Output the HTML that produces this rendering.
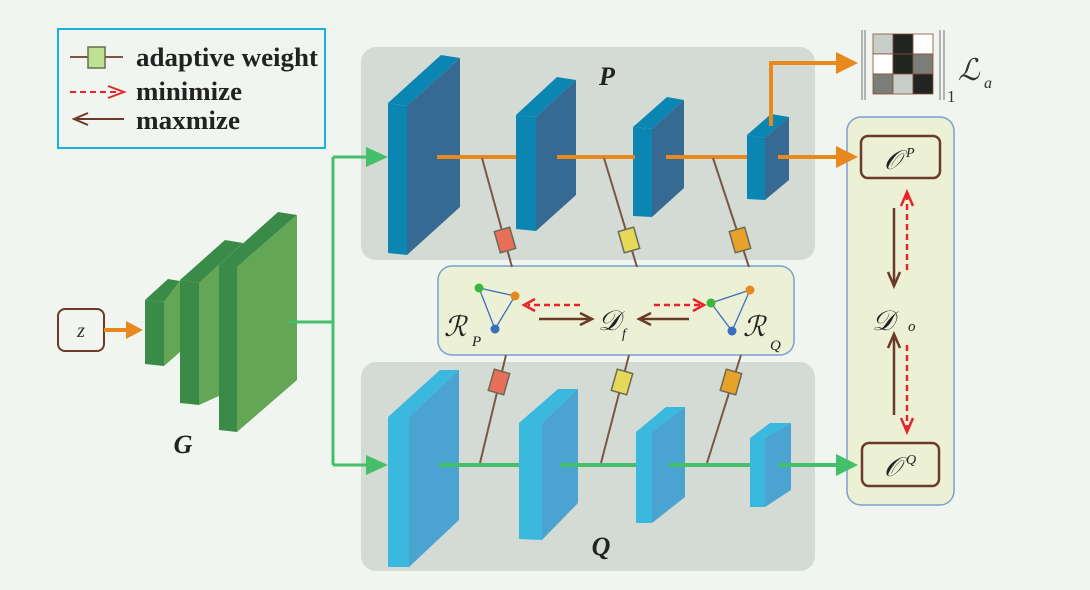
<!DOCTYPE html>
<html><head><meta charset="utf-8"><style>
html,body{margin:0;padding:0;background:#f0f6ef;}
svg{display:block}
text{font-family:"Liberation Serif",serif;}
</style></head><body>
<svg width="1090" height="590" viewBox="0 0 1090 590" xmlns="http://www.w3.org/2000/svg">
<rect width="1090" height="590" fill="#f0f6ef"/>
<!-- legend -->
<rect x="58" y="29" width="267" height="119" fill="none" stroke="#1ab0e0" stroke-width="2"/>
<line x1="70" y1="57" x2="123" y2="57" stroke="#7a5548" stroke-width="2"/>
<rect x="88" y="47" width="17" height="21" fill="#bfe292" stroke="#6b6b55" stroke-width="1.5"/>
<line x1="70" y1="92" x2="118" y2="92" stroke="#e8242a" stroke-width="2" stroke-dasharray="6,4"/>
<path d="M108,86 L124,92 L108,98" fill="none" stroke="#e8242a" stroke-width="2"/>
<line x1="75" y1="119" x2="124" y2="119" stroke="#6b3a28" stroke-width="2"/>
<path d="M88,113 L74,119 L88,125" fill="none" stroke="#6b3a28" stroke-width="2"/>
<g font-weight="bold" font-size="26" fill="#222">
<text x="136" y="66" textLength="182" lengthAdjust="spacingAndGlyphs">adaptive weight</text>
<text x="136" y="100" textLength="106" lengthAdjust="spacingAndGlyphs">minimize</text>
<text x="136" y="129" textLength="104" lengthAdjust="spacingAndGlyphs">maxmize</text>
</g>
<!-- panels -->
<rect x="361" y="47" width="454" height="213" rx="15" fill="#d4dbd5"/>
<rect x="361" y="362" width="454" height="209" rx="15" fill="#d4dbd5"/>
<rect x="847" y="117" width="107" height="388" rx="14" fill="#ecf0d4" stroke="#7a9fd0" stroke-width="1.5"/>
<!-- z and G -->
<rect x="58" y="309" width="46" height="42" rx="7" fill="#f0f6ef" stroke="#6b3a28" stroke-width="2"/>
<text x="81" y="337" text-anchor="middle" font-size="20" font-style="italic" fill="#333">z</text>
<line x1="104" y1="330" x2="128" y2="330" stroke="#e8891e" stroke-width="4"/>
<path d="M126,321 L143,330 L126,339 Z" fill="#e8891e"/>
<g>
<path d="M145,300 L168,279 L180,281 L164,302 Z" fill="#3a8a48"/>
<path d="M164,302 L180,281 L180,352 L164,366 Z" fill="#62a656"/>
<path d="M145,300 L164,302 L164,366 L145,364 Z" fill="#3a8a48"/>
<path d="M180,280 L225,240 L243,243 L199,283 Z" fill="#3a8a48"/>
<path d="M199,283 L243,243 L243,385 L199,405 Z" fill="#62a656"/>
<path d="M180,280 L199,283 L199,405 L180,403 Z" fill="#3a8a48"/>
<path d="M219,265 L278,212 L297,215 L237,267 Z" fill="#3a8a48"/>
<path d="M237,267 L297,215 L297,380 L237,432 Z" fill="#62a656"/>
<path d="M219,265 L237,267 L237,432 L219,430 Z" fill="#3a8a48"/>
</g>
<text x="183" y="453" text-anchor="middle" font-size="26" font-weight="bold" font-style="italic" fill="#222">G</text>
<!-- green split -->
<path d="M289,322 L333,322 M333,157 L333,465 M333,157 L370,157 M333,465 L370,465" stroke="#45bf6a" stroke-width="3" fill="none"/>
<path d="M366,147 L388,157 L366,167 Z" fill="#45bf6a"/>
<path d="M366,455 L388,465 L366,475 Z" fill="#45bf6a"/>
<!-- P blocks -->
<g>
<path d="M388,103 L441,55 L460,58 L407,106 Z" fill="#0b86b2"/>
<path d="M407,106 L460,58 L460,207 L407,255 Z" fill="#366a92"/>
<path d="M388,103 L407,106 L407,255 L388,253 Z" fill="#0b86b2"/>
<path d="M516,115 L557,77 L576,80 L536,117 Z" fill="#0b86b2"/>
<path d="M536,117 L576,80 L576,195 L536,231 Z" fill="#366a92"/>
<path d="M516,115 L536,117 L536,231 L516,229 Z" fill="#0b86b2"/>
<path d="M633,127 L667,97 L684,100 L652,129 Z" fill="#0b86b2"/>
<path d="M652,129 L684,100 L684,188 L652,217 Z" fill="#366a92"/>
<path d="M633,127 L652,129 L652,217 L633,216 Z" fill="#0b86b2"/>
<path d="M747,135 L771,114 L789,117 L765,138 Z" fill="#0b86b2"/>
<path d="M765,138 L789,117 L789,180 L765,200 Z" fill="#366a92"/>
<path d="M747,135 L765,138 L765,200 L747,199 Z" fill="#0b86b2"/>
</g>
<text x="607" y="85" text-anchor="middle" font-size="26" font-weight="bold" font-style="italic" fill="#222">P</text>
<!-- orange line -->
<g stroke="#e8891e" stroke-width="4" fill="none">
<path d="M437,157 L516,157 M557,157 L635,157 M666,157 L747,157 M778,157 L840,157"/>
<path d="M771,126 L771,63 L840,63"/>
</g>
<path d="M836,146 L858,157 L836,168 Z" fill="#e8891e"/>
<path d="M836,52 L858,63 L836,74 Z" fill="#e8891e"/>
<!-- matrix -->
<g stroke="#888" stroke-width="1.2">
<line x1="862" y1="30" x2="862" y2="100"/><line x1="865" y1="30" x2="865" y2="100"/>
<line x1="940" y1="30" x2="940" y2="100"/><line x1="944" y1="30" x2="944" y2="100"/>
</g>
<g stroke="#8a4a3a" stroke-width="0.8">
<rect x="873" y="34" width="20" height="20" fill="#c8cec8"/><rect x="893" y="34" width="20" height="20" fill="#222622"/><rect x="913" y="34" width="20" height="20" fill="#fff"/>
<rect x="873" y="54" width="20" height="20" fill="#fff"/><rect x="893" y="54" width="20" height="20" fill="#222622"/><rect x="913" y="54" width="20" height="20" fill="#7a7e78"/>
<rect x="873" y="74" width="20" height="20" fill="#7a7e78"/><rect x="893" y="74" width="20" height="20" fill="#c8cec8"/><rect x="913" y="74" width="20" height="20" fill="#222622"/>
</g>
<text x="947" y="102" font-size="17" fill="#333">1</text>
<text x="958" y="80" font-size="30" font-style="italic" fill="#333">ℒ</text>
<text x="984" y="88" font-size="16" font-style="italic" fill="#333">a</text>
<!-- Q blocks -->
<g>
<path d="M388,417 L440,370 L459,370 L409,417 Z" fill="#3ab8de"/>
<path d="M409,417 L459,370 L459,520 L409,567 Z" fill="#4aa3d0"/>
<path d="M388,417 L409,417 L409,567 L388,567 Z" fill="#3ab8de"/>
<path d="M519,423 L558,389 L578,389 L542,423 Z" fill="#3ab8de"/>
<path d="M542,423 L578,389 L578,503 L542,540 Z" fill="#4aa3d0"/>
<path d="M519,423 L542,423 L542,540 L519,539 Z" fill="#3ab8de"/>
<path d="M636,432 L666,407 L685,407 L652,432 Z" fill="#3ab8de"/>
<path d="M652,432 L685,407 L685,497 L652,523 Z" fill="#4aa3d0"/>
<path d="M636,432 L652,432 L652,523 L636,523 Z" fill="#3ab8de"/>
<path d="M750,438 L770,423 L791,423 L765,438 Z" fill="#3ab8de"/>
<path d="M765,438 L791,423 L791,490 L765,507 Z" fill="#4aa3d0"/>
<path d="M750,438 L765,438 L765,507 L750,507 Z" fill="#3ab8de"/>
</g>
<text x="601" y="555" text-anchor="middle" font-size="26" font-weight="bold" font-style="italic" fill="#222">Q</text>
<g stroke="#45bf6a" stroke-width="4" fill="none">
<path d="M439,465 L519,465 M560,465 L636,465 M669,465 L750,465 M778,465 L840,465"/>
</g>
<path d="M836,454 L858,465 L836,476 Z" fill="#45bf6a"/>
<!-- middle box -->
<rect x="438" y="266" width="356" height="89" rx="14" fill="#ecf0d4" stroke="#7a9fd0" stroke-width="1.5"/>
<!-- brown weight lines -->
<g stroke="#7a5548" stroke-width="2">
<line x1="482" y1="158" x2="512" y2="267"/><line x1="604" y1="158" x2="637" y2="267"/><line x1="713" y1="158" x2="749" y2="267"/>
<line x1="506" y1="355" x2="480" y2="463"/><line x1="629" y1="355" x2="601" y2="463"/><line x1="741" y1="355" x2="707" y2="463"/>
</g>
<g stroke="#6b6b55" stroke-width="1.5">
<rect x="-8" y="-11" width="16" height="22" fill="#e8705a" transform="translate(505,240) rotate(-16)"/>
<rect x="-8" y="-11" width="16" height="22" fill="#e6d95a" transform="translate(629,240) rotate(-16)"/>
<rect x="-8" y="-11" width="16" height="22" fill="#e8a22a" transform="translate(740,240) rotate(-16)"/>
<rect x="-8" y="-11" width="16" height="22" fill="#e8705a" transform="translate(499,382) rotate(16)"/>
<rect x="-8" y="-11" width="16" height="22" fill="#e6d95a" transform="translate(622,382) rotate(16)"/>
<rect x="-8" y="-11" width="16" height="22" fill="#e8a22a" transform="translate(731,382) rotate(16)"/>
</g>
<!-- graphs -->
<g stroke="#3a6fc0" stroke-width="1.3" fill="none">
<path d="M479,288 L515,296 L495,329 Z"/>
<path d="M711,303 L750,290 L732,331 Z"/>
</g>
<circle cx="479" cy="288" r="4.5" fill="#3ab83a"/><circle cx="515" cy="296" r="4.5" fill="#e8891e"/><circle cx="495" cy="329" r="4.5" fill="#3a6fc0"/>
<circle cx="711" cy="303" r="4.5" fill="#3ab83a"/><circle cx="750" cy="290" r="4.5" fill="#e8891e"/><circle cx="732" cy="331" r="4.5" fill="#3a6fc0"/>
<g font-style="italic" fill="#222">
<text x="444" y="336" font-size="28">ℛ</text><text x="472" y="346" font-size="15">P</text>
<text x="743" y="336" font-size="28">ℛ</text><text x="770" y="350" font-size="15">Q</text>
<text x="598" y="330" font-size="28">𝒟</text><text x="622" y="338" font-size="14">f</text>
<text x="872" y="330" font-size="28">𝒟</text><text x="908" y="331" font-size="15">o</text>
</g>
<!-- middle arrows -->
<g stroke-width="2.5" fill="none">
<path d="M580,305 L528,305" stroke="#e8242a" stroke-dasharray="6,4"/>
<path d="M535,299 L524,305 L535,311" stroke="#e8242a"/>
<path d="M654,305 L700,305" stroke="#e8242a" stroke-dasharray="6,4"/>
<path d="M693,299 L704,305 L693,311" stroke="#e8242a"/>
<path d="M539,319 L590,319" stroke="#6b3a28"/>
<path d="M580,313 L592,319 L580,325" stroke="#6b3a28"/>
<path d="M689,319 L641,319" stroke="#6b3a28"/>
<path d="M651,313 L639,319 L651,325" stroke="#6b3a28"/>
<!-- right column -->
<path d="M894,208 L894,284" stroke="#6b3a28"/>
<path d="M888,272 L894,286 L900,272" stroke="#6b3a28"/>
<path d="M907,270 L907,195" stroke="#e8242a" stroke-dasharray="6,4"/>
<path d="M901,206 L907,192 L913,206" stroke="#e8242a"/>
<path d="M894,415 L894,336" stroke="#6b3a28"/>
<path d="M888,348 L894,334 L900,348" stroke="#6b3a28"/>
<path d="M907,345 L907,428" stroke="#e8242a" stroke-dasharray="6,4"/>
<path d="M901,418 L907,432 L913,418" stroke="#e8242a"/>
</g>
<rect x="861" y="136" width="79" height="42" rx="7" fill="#ecf0d4" stroke="#6b3a28" stroke-width="2.5"/>
<rect x="862" y="443" width="77" height="43" rx="7" fill="#ecf0d4" stroke="#6b3a28" stroke-width="2.5"/>
<g font-style="italic" fill="#222">
<text x="884" y="169" font-size="27">𝒪</text><text x="906" y="157" font-size="14">P</text>
<text x="884" y="476" font-size="27">𝒪</text><text x="906" y="464" font-size="14">Q</text>
</g>
</svg>
</body></html>
